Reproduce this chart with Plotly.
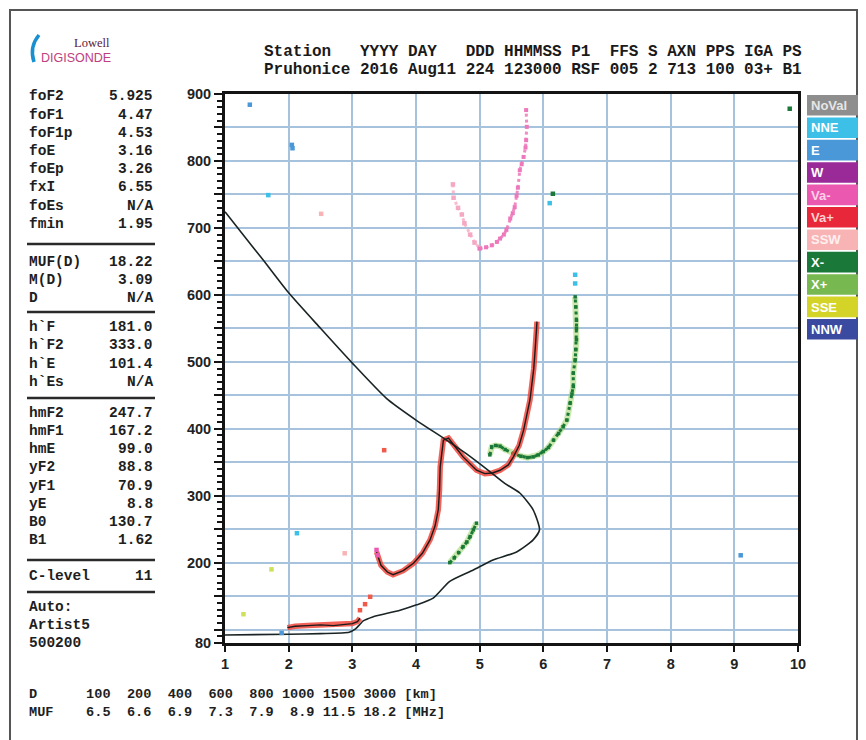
import plotly.graph_objects as go

# ---------------- data ----------------
# true-height / model profile (black line)
prof_f = [1.0, 1.3, 1.6, 2.0, 2.5, 3.0, 3.54, 4.0, 4.48, 4.8, 5.16, 5.4, 5.63, 5.84, 5.94,
          5.84, 5.58, 5.21, 4.90, 4.53, 4.27, 4.01, 3.75, 3.32, 3.17, 3.12, 3.05, 2.95, 2.5, 2.0, 1.0]
prof_h = [724, 688, 652, 603, 550, 498, 445, 413, 383, 362, 336, 318, 304, 279, 249,
          234, 216, 204, 189, 172, 147, 137, 129, 119, 113, 108, 101, 96, 94, 93, 92]

# O-mode E trace (Va+) and its fit
vaE_f = [1.98, 2.1, 2.3, 2.5, 2.7, 2.9, 3.0, 3.08, 3.12]
vaE_h = [103, 105, 106, 107, 106, 108, 109, 112, 117]
# O-mode F trace (Va+) and its fit
vaF_f = [3.38, 3.45, 3.55, 3.64, 3.8, 3.96, 4.1, 4.22, 4.3, 4.35, 4.37, 4.38, 4.43, 4.51, 4.6,
         4.74, 4.95, 5.08, 5.2, 5.32, 5.45, 5.53, 5.62, 5.69, 5.79, 5.85, 5.88, 5.9]
vaF_h = [216, 196, 186, 182, 188, 199, 214, 234, 255, 279, 310, 343, 383, 386, 375,
         358, 338, 333, 334, 338, 346, 358, 375, 398, 443, 490, 530, 560]

# second-hop traces (upper)
ssw_f = [4.58, 4.59, 4.66, 4.72, 4.76, 4.85, 4.92, 5.0]
ssw_h = [765, 745, 730, 720, 707, 690, 678, 670]
vam_f = [5.0, 5.1, 5.19, 5.27, 5.32, 5.38, 5.42, 5.48, 5.52, 5.55, 5.58, 5.6, 5.63, 5.66,
         5.69, 5.72, 5.73, 5.74, 5.73]
vam_h = [669, 671, 674, 679, 684, 690, 697, 714, 722, 731, 748, 760, 786, 795,
         806, 820, 831, 851, 876]

# X-mode traces
xlo_f = [4.53, 4.6, 4.67, 4.74, 4.8, 4.85, 4.9, 4.95]
xlo_h = [200, 207, 215, 224, 231, 239, 249, 259]
xup_f = [5.16, 5.19, 5.25, 5.32, 5.4, 5.53, 5.65, 5.75, 5.84, 5.92, 6.0, 6.08, 6.16, 6.24,
         6.31, 6.37, 6.42, 6.45, 6.47, 6.47, 6.5, 6.51, 6.52, 6.52, 6.52, 6.51, 6.5]
xup_h = [361, 373, 375, 374, 369, 363, 359, 357, 358, 361, 366, 372, 383, 393,
         403, 413, 438, 452, 463, 483, 503, 518, 533, 550, 562, 582, 597]

# isolated echoes by direction
dotE_f = [1.39, 2.05, 2.06, 9.1, 1.89]
dotE_h = [884, 824, 819, 211, 95]
dotNNE_f = [1.68, 2.13, 6.10, 6.5, 6.5]
dotNNE_h = [749, 244, 737, 617, 630]
dotSSW_f = [2.51, 2.88]
dotSSW_h = [721, 214]
dotXm_f = [6.15, 9.87]
dotXm_h = [751, 878]
dotSSE_f = [1.73, 1.29]
dotSSE_h = [190, 123]
dotVap_f = [3.5, 3.12, 3.2, 3.28]
dotVap_h = [368, 129, 138, 149]
dotVam_f = [3.38, 3.4]
dotVam_h = [219, 211]

x_ticks = [1, 2, 3, 4, 5, 6, 7, 8, 9, 10]
y_ticks = [80, 100, 150, 200, 250, 300, 350, 400, 450, 500, 550, 600, 650, 700, 750, 800, 850, 900]
y_ticktext = ["80", "", "", "200", "", "300", "", "400", "", "500", "", "600", "", "700", "", "800", "", "900"]

legend_names = ["NoVal", "NNE", "E", "W", "Va-", "Va+", "SSW", "X-", "X+", "SSE", "NNW"]
legend_colors = ["#8e8e8e", "#3cc0e8", "#4a98d8", "#9a2a98", "#ea58b0", "#e8283a", "#f8b4b4",
                 "#1a7838", "#78b850", "#d4d428", "#3a4aa0"]
legend_textcolors = ["#e6e6e6", "white", "white", "white", "#ffd0e8", "#ffd0d0", "#fff0f0",
                     "white", "white", "white", "white"]

panel_labels = ["foF2", "foF1", "foF1p", "foE", "foEp", "fxI", "foEs", "fmin",
                "MUF(D)", "M(D)", "D",
                "h`F", "h`F2", "h`E", "h`Es",
                "hmF2", "hmF1", "hmE", "yF2", "yF1", "yE", "B0", "B1",
                "C-level"]
panel_values = ["5.925", "4.47", "4.53", "3.16", "3.26", "6.55", "N/A", "1.95",
                "18.22", "3.09", "N/A",
                "181.0", "333.0", "101.4", "N/A",
                "247.7", "167.2", "99.0", "88.8", "70.9", "8.8", "130.7", "1.62",
                "11"]
panel_rows_y = [96, 115, 133, 151, 169, 187, 206, 224,
                262, 280, 298,
                327, 345, 364, 382,
                413, 431, 449, 467, 486, 504, 522, 540,
                576]
panel_seps_y = [244, 312, 398, 560, 592]
panel_footer = ["Auto:", "Artist5", "500200"]
panel_footer_y = [607, 625, 643]

header_row1 = "Station   YYYY DAY   DDD HHMMSS P1  FFS S AXN PPS IGA PS"
header_row2 = "Pruhonice 2016 Aug11 224 123000 RSF 005 2 713 100 03+ B1"

dist_km = [100, 200, 400, 600, 800, 1000, 1500, 3000]
muf_mhz = ["6.5", "6.6", "6.9", "7.3", "7.9", "8.9", "11.5", "18.2"]

# ---------------- geometry helpers ----------------
W, H = 866, 740
PL, PR, PT, PB = 225, 798, 94, 643


def px(x):
    return (x - PL) / (PR - PL)


def py(y):
    return (PB - y) / (PB - PT)


NB = "\u00a0"
MONO = "Liberation Mono, DejaVu Sans Mono, monospace"
SANS = "Liberation Sans, Arial, sans-serif"

fig = go.Figure()

# X-mode halos and traces
for f, h in [(xlo_f, xlo_h), (xup_f, xup_h)]:
    fig.add_trace(go.Scatter(x=f, y=h, mode="lines", line=dict(color="rgba(150,210,90,0.5)", width=6),
                             hoverinfo="skip", showlegend=False))
    fig.add_trace(go.Scatter(x=f, y=h, mode="lines+markers",
                             line=dict(color="#1a7838", width=3, dash="dot"),
                             marker=dict(color="#1a7838", size=3.5, symbol="square"),
                             showlegend=False))

# upper (second hop) traces
fig.add_trace(go.Scatter(x=ssw_f, y=ssw_h, mode="lines+markers",
                         line=dict(color="rgba(246,170,190,0.8)", width=3, dash="dot"),
                         marker=dict(color="#f4a8c4", size=4.5, symbol="square"), showlegend=False))
fig.add_trace(go.Scatter(x=vam_f, y=vam_h, mode="lines+markers",
                         line=dict(color="rgba(236,110,180,0.8)", width=3, dash="dot"),
                         marker=dict(color="#ee78bc", size=4, symbol="square"), showlegend=False))

# O-mode traces (red, wide)
for f, h in [(vaE_f, vaE_h), (vaF_f, vaF_h)]:
    fig.add_trace(go.Scatter(x=f, y=h, mode="lines", line=dict(color="rgba(240,70,60,0.85)", width=5.5),
                             showlegend=False))

# profile
fig.add_trace(go.Scatter(x=prof_f, y=prof_h, mode="lines",
                         line=dict(color="#1a2424", width=1.6, shape="spline", smoothing=0.6),
                         showlegend=False))
# fitted traces
for f, h in [(vaE_f, vaE_h), (vaF_f, vaF_h)]:
    fig.add_trace(go.Scatter(x=f, y=h, mode="lines", line=dict(color="#1a1a1a", width=1.4),
                             showlegend=False))

# scattered echoes
for f, h, c in [(dotE_f, dotE_h, "#4a98d8"), (dotNNE_f, dotNNE_h, "#3cc0e8"),
                (dotSSW_f, dotSSW_h, "#f8b4b4"), (dotXm_f, dotXm_h, "#1a7838"),
                (dotSSE_f, dotSSE_h, "#cfe05a"), (dotVap_f, dotVap_h, "#f05a4a"),
                (dotVam_f, dotVam_h, "#ea58b0")]:
    fig.add_trace(go.Scatter(x=f, y=h, mode="markers",
                             marker=dict(color=c, size=4.5, symbol="square"), showlegend=False))

shapes = []
annotations = []

# outer frame
shapes.append(dict(type="rect", xref="paper", yref="paper", x0=px(10), x1=px(857), y0=py(760), y1=py(10),
                   line=dict(color="#555555", width=2), fillcolor="rgba(0,0,0,0)", layer="below"))

# logo
shapes.append(dict(type="path", xref="paper", yref="paper",
                   path="M %f,%f Q %f,%f %f,%f" % (px(39), py(35), px(29), py(47), px(34), py(62)),
                   line=dict(color="#1890d0", width=3.5)))
annotations.append(dict(x=px(112), y=py(43), xref="paper", yref="paper", text="Lowell", showarrow=False,
                        xanchor="right", yanchor="middle",
                        font=dict(family="Liberation Serif, DejaVu Serif, serif", size=12.5, color="#5a1a3a")))
annotations.append(dict(x=px(39), y=py(58), xref="paper", yref="paper", text="DIGISONDE", showarrow=False,
                        xanchor="left", yanchor="middle",
                        font=dict(family=SANS, size=12.5, color="#c0407e")))

# header
for txt, yy in [(header_row1, 52), (header_row2, 70)]:
    annotations.append(dict(x=px(262), y=py(yy), xref="paper", yref="paper", text=txt.replace(" ", NB),
                            showarrow=False, xanchor="left", yanchor="middle",
                            font=dict(family=MONO, size=16, color="#1a1a1a", weight="bold")))

# left panel
for lab, val, yy in zip(panel_labels, panel_values, panel_rows_y):
    annotations.append(dict(x=px(27), y=py(yy), xref="paper", yref="paper", text=lab, showarrow=False,
                            xanchor="left", yanchor="middle",
                            font=dict(family=MONO, size=14.5, color="#1e1e1e", weight="bold")))
    annotations.append(dict(x=px(155), y=py(yy), xref="paper", yref="paper", text=val, showarrow=False,
                            xanchor="right", yanchor="middle",
                            font=dict(family=MONO, size=14.5, color="#1e1e1e", weight="bold")))
for lab, yy in zip(panel_footer, panel_footer_y):
    annotations.append(dict(x=px(27), y=py(yy), xref="paper", yref="paper", text=lab, showarrow=False,
                            xanchor="left", yanchor="middle",
                            font=dict(family=MONO, size=14.5, color="#1e1e1e", weight="bold")))
for yy in panel_seps_y:
    shapes.append(dict(type="line", xref="paper", yref="paper", x0=px(27), x1=px(155), y0=py(yy), y1=py(yy),
                       line=dict(color="#2a2a2a", width=2.5)))

# legend colour boxes
for i, (name, col, tc) in enumerate(zip(legend_names, legend_colors, legend_textcolors)):
    top = 95 + i * 22.4
    shapes.append(dict(type="rect", xref="paper", yref="paper", x0=px(807), x1=px(858),
                       y0=py(top + 20.6), y1=py(top), line=dict(width=0), fillcolor=col))
    annotations.append(dict(x=px(809), y=py(top + 10.5), xref="paper", yref="paper", text=name,
                            showarrow=False, xanchor="left", yanchor="middle",
                            font=dict(family=SANS, size=13, color=tc, weight="bold")))

# bottom distance / MUF table
row_d = "D".ljust(5) + "".join(str(v).rjust(5) for v in dist_km) + " [km]"
row_m = "MUF".ljust(5) + "".join(v.rjust(5) for v in muf_mhz) + " [MHz]"
for txt, yy in [(row_d, 694), (row_m, 712)]:
    annotations.append(dict(x=px(27), y=py(yy), xref="paper", yref="paper", text=txt.replace(" ", NB),
                            showarrow=False, xanchor="left", yanchor="middle",
                            font=dict(family=MONO, size=13.6, color="#1e1e1e", weight="bold")))

fig.update_layout(
    width=W, height=H,
    margin=dict(l=PL, r=W - PR, t=PT, b=H - PB, pad=0),
    paper_bgcolor="white", plot_bgcolor="white",
    showlegend=False,
    shapes=shapes, annotations=annotations,
    xaxis=dict(range=[1, 10], tickmode="array", tickvals=x_ticks, ticktext=[str(v) for v in x_ticks],
               showgrid=True, gridcolor="#a6c2dc", gridwidth=1.6, zeroline=False,
               showline=True, linecolor="#141414", linewidth=3, mirror=True,
               ticks="outside", ticklen=6, tickwidth=2, tickcolor="#141414",
               tickfont=dict(family=SANS, size=14.5, color="#222222", weight="bold")),
    yaxis=dict(range=[80, 900], tickmode="array", tickvals=y_ticks, ticktext=y_ticktext,
               showgrid=True, gridcolor="#a6c2dc", gridwidth=1.6, zeroline=False,
               showline=True, linecolor="#141414", linewidth=3, mirror=True,
               ticks="outside", ticklen=8, tickwidth=2, tickcolor="#141414",
               minor=dict(tickmode="linear", tick0=0, dtick=10, ticklen=5, tickwidth=1.5,
                          tickcolor="#141414", ticks="outside", showgrid=False),
               tickfont=dict(family=SANS, size=14.5, color="#222222", weight="bold")),
)

fig.write_html("out.html", config={"displayModeBar": False},
               post_script="document.body.style.margin='0px';document.body.style.overflow='hidden';")
